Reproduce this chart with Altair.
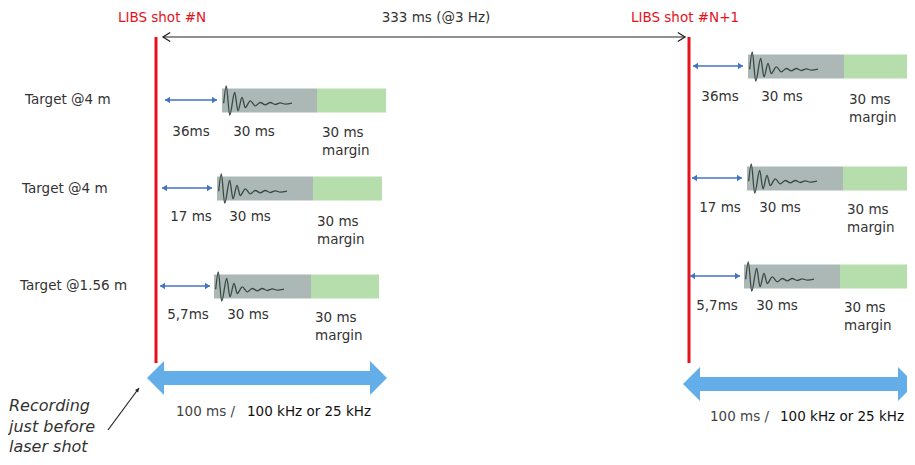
import altair as alt
import pandas as pd

# ---------------- text content ----------------
shot_labels = ["LIBS shot #N", "LIBS shot #N+1"]
period_label = "333 ms (@3 Hz)"
target_labels = ["Target @4 m", "Target @4 m", "Target @1.56 m"]
delay_labels = ["36ms", "17 ms", "5,7ms"]
window_label = "30 ms"
margin_lines = ["30 ms", "margin"]
rate_left = "100 ms /"
rate_right = "100 kHz or 25 kHz"
note_lines = ["Recording", "just before", "laser shot"]

# ---------------- layout (pixels) ----------------
shot_x = [156, 689]
shot_top, shot_bottom = 37, 363
shot_label_x = [162, 685]
shot_label_y = 18
period_x, period_y = 436, 18
period_arrow = (163, 685, 37)

row_y = [[100, 188, 286], [66, 178, 276]]
arrow_x0 = [[165, 162, 160], [693, 692, 690]]
arrow_x1 = [[217, 212, 210], [743, 742, 740]]
gray_x0 = [[222, 217, 214], [748, 747, 744]]
green_x0 = [[317, 313, 311], [844, 843, 840]]
green_x1 = [[386, 382, 379], [913, 911, 908]]
label_y = [[132, 217, 315], [97, 208, 306]]
delay_cx = [[191, 191, 188], [720, 720, 717]]
window_cx = [[254, 250, 248], [782, 780, 777]]
margin_x = [[322, 317, 315], [849, 847, 844]]
margin_y = [[133, 222, 318], [100, 210, 308]]
target_x = [25, 22, 20]
target_y = [100, 189, 286]

big_x0 = [147, 683]
big_x1 = [387, 915]
big_y = [378, 384]
rate_x = [[176, 247], [710, 780]]
rate_y = [412, 417]

note_x = 9
note_y = [406, 427, 447]
pointer = (108, 430, 139, 388)

# damped signal glyph, offsets from the start of the grey window / row centre
wave_dx = [1.7, 4.3, 7.7, 12.7, 16, 20, 23.3, 28.3, 33.3, 38.3, 43.3, 48.3, 53.3, 58.3, 63.3, 70]
wave_dy = [2.7, -14.7, 14.7, -8, 10.3, -3, 7, 0.3, 5.3, 2, 4.3, 2, 4, 2.3, 3.7, 2.7]

RED = "#e5121c"
GREY = "#abb8b6"
GREEN = "#b5deac"
BLUE = "#4472c4"
BIG_BLUE = "#63aee8"
TXT = "#333333"
FONT = "DejaVu Sans"

# plot area occupies page pixels 8..907 x 8..457 (the page has an 8px margin)
W, H = 899, 449
xs = alt.Scale(domain=[8, 8 + W], nice=False, zero=False)
ys = alt.Scale(domain=[8 + H, 8], nice=False, zero=False)


def X(f="x"):
    return alt.X(f"{f}:Q", scale=xs, axis=None)


def Y(f="y"):
    return alt.Y(f"{f}:Q", scale=ys, axis=None)


layers = []

# red shot lines
df_shot = pd.DataFrame({"x": shot_x, "y": [shot_top] * 2, "y2": [shot_bottom] * 2})
layers.append(alt.Chart(df_shot).mark_rule(color=RED, strokeWidth=3).encode(
    x=X(), y=Y(), y2="y2:Q"))

# period arrow
df_per = pd.DataFrame({"x": [period_arrow[0]], "x2": [period_arrow[1]], "y": [period_arrow[2]]})
layers.append(alt.Chart(df_per).mark_rule(color="#222222", strokeWidth=1.2).encode(
    x=X(), x2="x2:Q", y=Y()))
layers.append(alt.Chart(pd.DataFrame({"x": [period_arrow[0]], "y": [period_arrow[2]]})).mark_point(
    shape="M1.6,-1L0,0L1.6,1", filled=False, size=81, color="#222222", strokeWidth=1.3, opacity=1
).encode(x=X(), y=Y()))
layers.append(alt.Chart(pd.DataFrame({"x": [period_arrow[1]], "y": [period_arrow[2]]})).mark_point(
    shape="M-1.6,-1L0,0L-1.6,1", filled=False, size=81, color="#222222", strokeWidth=1.3, opacity=1
).encode(x=X(), y=Y()))

# windows
rect_rows = []
arrow_rows = []
wave_rows = []
for s in range(2):
    for r in range(3):
        yc = row_y[s][r] + 0.5
        rect_rows.append({"x": gray_x0[s][r], "x2": green_x0[s][r], "y": yc - 12, "y2": yc + 12, "c": GREY})
        rect_rows.append({"x": green_x0[s][r], "x2": green_x1[s][r], "y": yc - 12, "y2": yc + 12, "c": GREEN})
        arrow_rows.append({"x": arrow_x0[s][r], "x2": arrow_x1[s][r], "y": row_y[s][r]})
        for i, (dx, dy) in enumerate(zip(wave_dx, wave_dy)):
            wave_rows.append({"x": gray_x0[s][r] + dx, "y": yc + dy, "g": f"{s}-{r}", "o": i})
df_rect = pd.DataFrame(rect_rows)
df_arr = pd.DataFrame(arrow_rows)
df_wave = pd.DataFrame(wave_rows)

layers.append(alt.Chart(df_rect).mark_rect().encode(
    x=X(), x2="x2:Q", y=Y(), y2="y2:Q", color=alt.Color("c:N", scale=None)))
layers.append(alt.Chart(df_wave).mark_line(color="#3b4944", strokeWidth=1.3, interpolate="monotone").encode(
    x=X(), y=Y(), detail="g:N", order="o:Q"))
layers.append(alt.Chart(df_arr).mark_rule(color=BLUE, strokeWidth=1.5).encode(
    x=X(), x2="x2:Q", y=Y()))
layers.append(alt.Chart(df_arr).mark_point(
    shape="M0,0L1,-0.65L1,0.65Z", filled=True, size=100, color=BLUE, opacity=1, strokeWidth=0
).encode(x=X(), y=Y()))
layers.append(alt.Chart(df_arr).mark_point(
    shape="M0,0L-1,-0.65L-1,0.65Z", filled=True, size=100, color=BLUE, opacity=1, strokeWidth=0
).encode(x=X("x2"), y=Y()))

# big recording arrows
df_big = pd.DataFrame({"x": big_x0, "x2": big_x1, "y": big_y,
                       "xs": [v + 15 for v in big_x0], "xe": [v - 15 for v in big_x1]})
layers.append(alt.Chart(df_big).mark_rule(color=BIG_BLUE, strokeWidth=14, strokeCap="butt").encode(
    x=X("xs"), x2="xe:Q", y=Y()))
layers.append(alt.Chart(df_big).mark_point(
    shape="M0,0L1,-1L1,1Z", filled=True, size=1156, color=BIG_BLUE, opacity=1, strokeWidth=0
).encode(x=X(), y=Y()))
layers.append(alt.Chart(df_big).mark_point(
    shape="M0,0L-1,-1L-1,1Z", filled=True, size=1156, color=BIG_BLUE, opacity=1, strokeWidth=0
).encode(x=X("x2"), y=Y()))

# pointer arrow for the note
df_ptr = pd.DataFrame({"x": [pointer[0]], "y": [pointer[1]], "x2": [pointer[2]], "y2": [pointer[3]]})
layers.append(alt.Chart(df_ptr).mark_rule(color="#222222", strokeWidth=1.2).encode(
    x=X(), y=Y(), x2="x2:Q", y2="y2:Q"))
layers.append(alt.Chart(df_ptr).mark_point(
    shape="M0,0L2,-1L2,1Z", filled=True, size=16, color="#222222", opacity=1, strokeWidth=0, angle=126
).encode(x=X("x2"), y=Y("y2")))

# ---------------- texts ----------------
center_rows = []
for i in range(2):
    center_rows.append({"x": shot_label_x[i], "y": shot_label_y, "t": shot_labels[i], "c": RED})
center_rows.append({"x": period_x, "y": period_y, "t": period_label, "c": TXT})
for s in range(2):
    for r in range(3):
        center_rows.append({"x": delay_cx[s][r], "y": label_y[s][r], "t": delay_labels[r], "c": TXT})
        center_rows.append({"x": window_cx[s][r], "y": label_y[s][r], "t": window_label, "c": TXT})
df_ct = pd.DataFrame(center_rows)
layers.append(alt.Chart(df_ct).mark_text(font=FONT, fontSize=13.5, align="center", baseline="middle").encode(
    x=X(), y=Y(), text="t:N", color=alt.Color("c:N", scale=None)))

left_rows = []
for r in range(3):
    left_rows.append({"x": target_x[r], "y": target_y[r], "t": target_labels[r], "c": TXT})
for s in range(2):
    for r in range(3):
        for k, line in enumerate(margin_lines):
            left_rows.append({"x": margin_x[s][r], "y": margin_y[s][r] + 18 * k, "t": line, "c": TXT})
    left_rows.append({"x": rate_x[s][0], "y": rate_y[s], "t": rate_left, "c": "#444444"})
    left_rows.append({"x": rate_x[s][1], "y": rate_y[s], "t": rate_right, "c": "#111111"})
df_lt = pd.DataFrame(left_rows)
layers.append(alt.Chart(df_lt).mark_text(font=FONT, fontSize=13.5, align="left", baseline="middle").encode(
    x=X(), y=Y(), text="t:N", color=alt.Color("c:N", scale=None)))

df_note = pd.DataFrame({"x": [note_x] * 3, "y": note_y, "t": note_lines})
layers.append(alt.Chart(df_note).mark_text(font=FONT, fontSize=16, fontStyle="italic", align="left",
                                           baseline="middle", color=TXT).encode(
    x=X(), y=Y(), text="t:N"))

chart = alt.layer(*layers).properties(
    width=W, height=H, autosize=alt.AutoSizeParams(type="none"), padding=0
).configure(background="white", view=alt.ViewConfig(stroke=None))

chart.save("out.html", embed_options={"renderer": "svg", "actions": False})
